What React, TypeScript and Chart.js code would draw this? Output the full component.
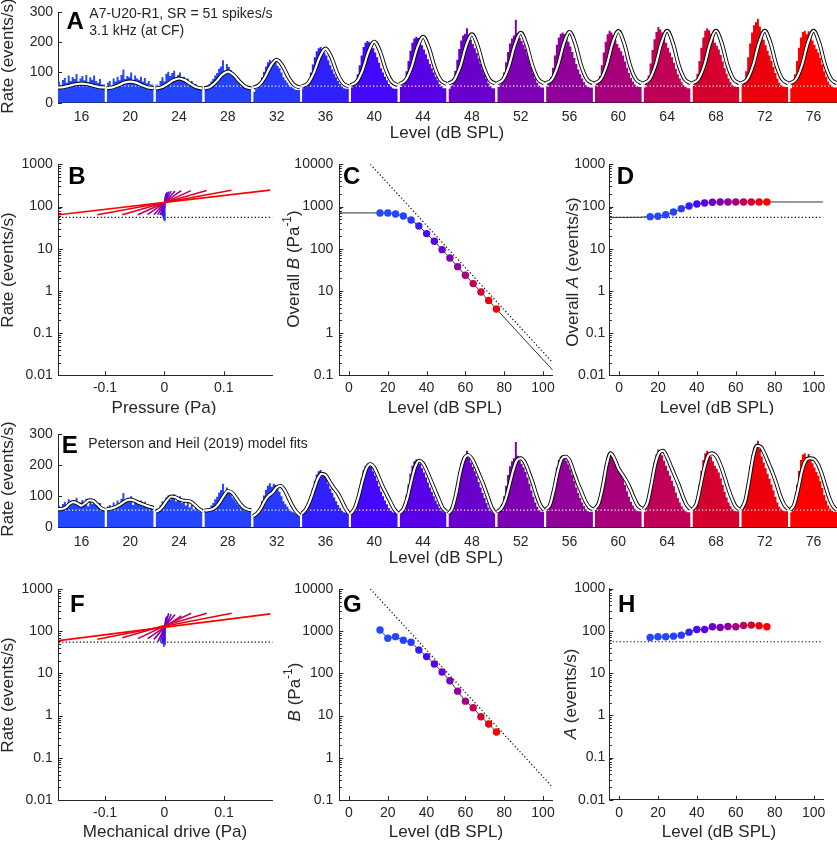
import React, { useEffect, useRef } from "react";
import { Chart, registerables } from "chart.js";

Chart.register(...registerables);

const FONT = "'Liberation Sans', Arial, Helvetica, sans-serif";
const INK = "#262626";

// ---------------- data ----------------
const levels = [16, 20, 24, 28, 32, 36, 40, 44, 48, 52, 56, 60, 64, 68, 72, 76];
const levelColors = [
  "#2348ff", "#2348ff", "#2446ff", "#2543ff", "#283aff", "#3020ff", "#4408ff", "#5800e6",
  "#6a00cc", "#7d00b3", "#910098", "#a8007a", "#c00056", "#d6002f", "#ec000c", "#ff0000",
];
// peak pressure of each tone (Pa)
const peakPressure = [
  0.000178, 0.000283, 0.000448, 0.00071, 0.00113, 0.00178, 0.00283, 0.00448,
  0.0071, 0.0113, 0.0178, 0.0283, 0.0448, 0.071, 0.113, 0.178,
];
// period histograms (events/s), 24 bins per level
const histogram = [
  [62, 70, 58, 75, 82, 66, 90, 72, 85, 78, 95, 70, 80, 88, 74, 92, 68, 84, 76, 90, 72, 66, 78, 60],
  [60, 66, 72, 58, 80, 70, 86, 74, 92, 110, 78, 88, 84, 100, 72, 90, 80, 76, 86, 70, 82, 64, 72, 60],
  [52, 60, 56, 72, 84, 70, 96, 102, 88, 98, 106, 84, 92, 100, 78, 86, 70, 80, 64, 72, 58, 62, 54, 50],
  [50, 54, 58, 62, 70, 78, 90, 98, 112, 120, 140, 106, 128, 118, 108, 96, 88, 80, 72, 66, 60, 56, 52, 50],
  [40, 36, 46, 54, 66, 84, 102, 120, 134, 142, 130, 140, 136, 122, 114, 100, 84, 74, 66, 58, 52, 48, 44, 42],
  [46, 48, 52, 60, 76, 100, 126, 150, 170, 180, 184, 178, 166, 156, 140, 124, 110, 96, 84, 72, 62, 54, 48, 46],
  [48, 50, 56, 70, 94, 124, 156, 184, 198, 204, 200, 194, 180, 166, 150, 132, 114, 100, 86, 74, 62, 54, 48, 46],
  [50, 52, 60, 78, 104, 138, 172, 198, 212, 218, 214, 204, 190, 176, 160, 144, 128, 114, 100, 86, 74, 62, 54, 48],
  [40, 46, 56, 76, 106, 142, 178, 206, 222, 228, 246, 222, 208, 194, 180, 164, 146, 128, 110, 94, 78, 64, 54, 48],
  [48, 52, 60, 76, 100, 134, 168, 196, 212, 222, 274, 230, 214, 204, 192, 178, 160, 140, 118, 98, 80, 66, 56, 50],
  [50, 54, 62, 84, 116, 156, 192, 216, 228, 232, 226, 214, 202, 186, 168, 148, 128, 110, 94, 80, 68, 58, 52, 50],
  [52, 56, 66, 88, 124, 166, 202, 226, 238, 232, 224, 208, 194, 182, 170, 156, 136, 116, 98, 82, 70, 60, 54, 52],
  [44, 50, 62, 90, 130, 174, 210, 234, 250, 242, 232, 214, 198, 182, 166, 150, 132, 112, 94, 80, 68, 58, 52, 48],
  [52, 56, 66, 96, 138, 182, 216, 238, 246, 240, 228, 212, 198, 188, 176, 158, 136, 114, 96, 80, 68, 58, 54, 52],
  [54, 58, 70, 104, 150, 196, 232, 256, 266, 278, 252, 228, 208, 190, 172, 156, 138, 118, 98, 80, 66, 58, 54, 52],
  [44, 48, 62, 94, 138, 182, 216, 234, 238, 226, 236, 220, 206, 192, 178, 166, 148, 126, 104, 86, 70, 60, 54, 50],
];
// overall-model fit curves over one period (9 samples per level)
const overallFitCurve = [
  [50, 51.7, 56.1, 60.9, 63, 60.9, 56.1, 51.7, 50],
  [48, 50.7, 58, 66.3, 70, 66.3, 58, 50.7, 48],
  [47, 50.8, 61.3, 74, 80, 74, 61.3, 50.8, 47],
  [47, 52.8, 69.6, 91.8, 103, 91.8, 69.6, 52.8, 47],
  [50, 58.3, 84.3, 122, 142, 122, 84.3, 58.3, 50],
  [54, 64.4, 98.3, 150, 179, 150, 98.3, 64.4, 54],
  [58, 69.6, 108, 168, 202, 168, 108, 69.6, 58],
  [62, 74.6, 116, 181, 218, 181, 116, 74.6, 62],
  [63, 75.9, 119, 187, 226, 187, 119, 75.9, 63],
  [64, 77.3, 122, 191, 231, 191, 122, 77.3, 64],
  [64, 77.4, 122, 194, 234, 194, 122, 77.4, 64],
  [64, 77.5, 123, 196, 237, 196, 123, 77.5, 64],
  [64, 77.6, 123, 196, 238, 196, 123, 77.6, 64],
  [64, 77.6, 123, 196, 238, 196, 123, 77.6, 64],
  [64, 77.6, 123, 196, 238, 196, 123, 77.6, 64],
  [64, 77.6, 123, 196, 238, 196, 123, 77.6, 64],
];
// Peterson & Heil (2019) model fit curves (13 samples per level)
const modelFitCurve = [
  [58, 59, 64, 76, 81, 76, 70, 78, 87, 85, 74, 62, 56],
  [58, 60, 64, 70, 78, 86, 89, 86, 80, 75, 70, 66, 62],
  [50, 56, 70, 88, 99, 97, 90, 86, 85, 82, 72, 60, 52],
  [54, 55, 58, 66, 82, 102, 116, 112, 96, 78, 64, 57, 55],
  [36, 45, 62, 86, 102, 112, 128, 133, 120, 95, 70, 50, 38],
  [44, 58, 84, 120, 155, 172, 168, 148, 128, 112, 90, 64, 44],
  [44, 62, 100, 150, 190, 203, 192, 165, 135, 110, 85, 60, 45],
  [46, 60, 95, 150, 195, 214, 205, 180, 150, 120, 90, 62, 50],
  [44, 62, 110, 175, 220, 232, 220, 195, 165, 135, 100, 65, 45],
  [50, 60, 85, 130, 180, 215, 222, 210, 180, 145, 105, 72, 55],
  [58, 72, 120, 180, 220, 227, 215, 180, 145, 115, 85, 65, 58],
  [60, 78, 130, 200, 238, 220, 190, 170, 150, 125, 95, 70, 60],
  [58, 80, 140, 205, 240, 246, 225, 195, 165, 135, 100, 72, 58],
  [58, 75, 130, 190, 230, 238, 230, 205, 170, 130, 95, 68, 58],
  [58, 85, 150, 225, 262, 258, 235, 205, 175, 140, 100, 72, 58],
  [55, 72, 120, 180, 215, 222, 220, 205, 175, 135, 95, 68, 55],
];
// rate at -peak and +peak pressure (panels B, F)
const overallLineLo = [50, 48, 47, 47, 50, 54, 58, 62, 63, 64, 64, 64, 64, 64, 64, 64];
const overallLineHi = [63, 70, 80, 103, 142, 179, 202, 218, 226, 231, 234, 237, 238, 240, 242, 244];
const modelLineLo = [57, 59.4, 51.6, 48.3, 42.6, 48.9, 52.8, 50.6, 57.6, 56.2, 64, 66.5, 66.7, 69.8, 64.5, 59.8];
const modelLineHi = [83.4, 87, 100, 115, 145, 176, 217, 226, 267, 254, 248, 231, 265, 265, 266, 257];
// fitted parameters
const overallB = [703, 703, 666, 597, 480, 346, 228, 150, 95, 60, 37.6, 23.4, 14.9, 9.4, 5.9, 3.73];
const overallA = [57.5, 58.6, 64, 74, 89, 103, 115, 121, 126, 128, 128, 128, 128, 128, 128, 128];
const modelB = [1067, 678, 742, 608, 545, 359, 250, 167, 108, 67, 38, 22, 15.4, 9.4, 6.3, 4.1];
const modelA = [69, 71.9, 72, 74.5, 78.7, 92.7, 107, 107, 124, 119.5, 126, 124, 133, 136, 131, 124];
// overall fit functions (panels C, D)
const overallBFitLevels = [-5, 10, 16, 20, 24, 28, 32, 36, 40, 44, 48, 52, 56, 60, 64, 68, 72, 76, 90, 105];
const overallBFit = [705, 705, 703, 700, 666, 597, 480, 346, 228, 150, 95, 60, 37.6, 23.4, 14.9, 9.4, 5.9, 3.73, 0.74, 0.133];
const overallAFitLevels = [-5, 10, 16, 20, 24, 28, 32, 36, 40, 44, 48, 52, 56, 60, 76, 105];
const overallAFit = [55, 55.5, 57.5, 58.6, 64, 74, 89, 103, 115, 121, 126, 128, 128, 128, 128, 128];
// 1/peak-pressure criterion line (panels C, G)
const criterionLevels = [11, 105];
const criterionB = [10000, 0.2];
const spontRate = 55;

const rateLinTicks = [0, 100, 200, 300];
const rateLogTicks = [0.01, 0.1, 1, 10, 100, 1000];
const bLogTicks = [0.1, 1, 10, 100, 1000, 10000];
const pressureTicks = [-0.1, 0, 0.1];
const levelTicks = [0, 20, 40, 60, 80, 100];

// ---------------- constants for axes ----------------
const SEG_GAP = 0.04;
const SEG_MIN = SEG_GAP / 2;
const SEG_MAX = levels.length - SEG_GAP / 2;
const P_MIN = -0.178;
const P_MAX = 0.182;
const LV_MIN = -5;
const LV_MAX = 105;

// ---------------- plugins ----------------
const inTicksPlugin = {
  id: "inTicks",
  afterDraw(chart: any, _a: any, opts: any) {
    const axes = opts && opts.axes;
    if (!axes) return;
    const ctx = chart.ctx;
    const ca = chart.chartArea;
    ctx.save();
    ctx.strokeStyle = INK;
    ctx.lineWidth = 1;
    for (const ax of axes) {
      const s = chart.scales[ax.id];
      const horiz = s.isHorizontal();
      const mark = (v: number, len: number) => {
        if (v < s.min * 0.999999 - 1e-12 || v > s.max * 1.000001 + 1e-12) return;
        const p = Math.round(s.getPixelForValue(v)) + 0.5;
        ctx.beginPath();
        if (horiz) {
          ctx.moveTo(p, ca.bottom);
          ctx.lineTo(p, ca.bottom - len);
        } else {
          ctx.moveTo(ca.left, p);
          ctx.lineTo(ca.left + len, p);
        }
        ctx.stroke();
      };
      const majors = s.ticks.map((t: any) => t.value);
      majors.forEach((v: number) => mark(v, ax.len));
      if (ax.minor) {
        majors.forEach((v: number) => {
          for (let m = 2; m < 10; m++) mark(v * m, ax.minor);
        });
      }
    }
    ctx.restore();
  },
};

const panelTextPlugin = {
  id: "panelText",
  afterDraw(chart: any, _a: any, opts: any) {
    const items = opts && opts.items;
    if (!items) return;
    const ctx = chart.ctx;
    const ox = opts.ox || 0;
    const oy = opts.oy || 0;
    for (const it of items) {
      ctx.save();
      ctx.fillStyle = it.color || INK;
      ctx.textBaseline = "middle";
      ctx.textAlign = "left";
      const size = it.size;
      const fontFor = (p: any) =>
        `${p.italic ? "italic " : ""}${it.bold ? "bold " : ""}${p.sup ? Math.round(size * 0.68) : size}px ${FONT}`;
      let total = 0;
      const widths = it.parts.map((p: any) => {
        ctx.font = fontFor(p);
        const w = ctx.measureText(p.t).width;
        total += w;
        return w;
      });
      ctx.translate(it.x - ox, it.y - oy);
      if (it.rotate) ctx.rotate(-Math.PI / 2);
      let x = it.align === "left" ? 0 : -total / 2;
      it.parts.forEach((p: any, k: number) => {
        ctx.font = fontFor(p);
        ctx.fillText(p.t, x, p.sup ? -size * 0.36 : 0);
        x += widths[k];
      });
      ctx.restore();
    }
  },
};

Chart.register(inTicksPlugin as any, panelTextPlugin as any);

// ---------------- helpers ----------------
type Geo = { cx: number; cy: number; cw: number; ch: number; L: number; T: number; R: number; B: number };

function txt(x: number, y: number, s: string, size = 14, align = "left") {
  return { x, y, size, align, parts: [{ t: s }] };
}
function letter(x: number, y: number, s: string) {
  return { x, y, size: 24, align: "left", bold: true, color: "#000", parts: [{ t: s }] };
}
function xTitle(x: number, y: number, s: string) {
  return { x, y, size: 17, align: "center", parts: [{ t: s }] };
}
function yTitle(x: number, y: number, parts: any[]) {
  return { x, y, size: 17, align: "center", rotate: true, parts };
}

const logLabel = (v: number) => (v >= 1 ? String(Math.round(v)) : String(v));

function makeScale(axis: "x" | "y", g: Geo, spec: any) {
  return {
    type: spec.type,
    min: spec.min,
    max: spec.max,
    grid: { display: false, drawTicks: false },
    border: { display: spec.border !== false, color: INK, width: 1 },
    ticks: {
      color: INK,
      font: { family: FONT, size: 14, lineHeight: 1 },
      padding: spec.pad,
      autoSkip: false,
      maxRotation: 0,
      minRotation: 0,
      callback: (v: number, i: number) => spec.label(v, i),
    },
    afterBuildTicks: (s: any) => {
      s.ticks = spec.ticks.map((v: number) => ({ value: v }));
    },
    afterFit: (s: any) => {
      if (axis === "x") s.height = g.cy + g.ch - g.B;
      else s.width = g.L - g.cx;
    },
  };
}

const segX = (pad: number) => ({
  type: "linear", min: SEG_MIN, max: SEG_MAX, pad,
  ticks: levels.map((_, i) => i + 0.5),
  label: (_v: number, i: number) => String(levels[i]),
});
const rateLinY = (pad: number) => ({
  type: "linear", min: 0, max: 300, pad, ticks: rateLinTicks, label: (v: number) => String(v),
});
const rateLogY = (pad: number) => ({
  type: "logarithmic", min: 0.01, max: 1000, pad, ticks: rateLogTicks, label: logLabel,
});
const bLogY = (pad: number) => ({
  type: "logarithmic", min: 0.1, max: 10000, pad, ticks: bLogTicks, label: logLabel,
});
const pressureX = (pad: number) => ({
  type: "linear", min: P_MIN, max: P_MAX, pad, ticks: pressureTicks, label: (v: number) => String(v),
});
const levelX = (pad: number) => ({
  type: "linear", min: LV_MIN, max: LV_MAX, pad, ticks: levelTicks, label: (v: number) => String(v),
});

function dottedLine(xs: number[], ys: number[], color = "#000", order = 6) {
  return {
    data: xs.map((x, i) => ({ x, y: ys[i] })),
    borderColor: color,
    borderWidth: 1.2,
    borderDash: [1.2, 2.3],
    pointRadius: 0,
    order,
  };
}

function histDatasets() {
  return histogram.map((bins, i) => {
    const binW = (1 - SEG_GAP) / bins.length;
    const x0 = i + SEG_GAP / 2;
    const pts = bins.map((v, b) => ({ x: x0 + b * binW, y: v }));
    pts.push({ x: x0 + bins.length * binW, y: bins[bins.length - 1] });
    return {
      data: pts,
      stepped: "after",
      fill: "origin",
      backgroundColor: levelColors[i],
      borderColor: "rgba(0,0,0,0)",
      borderWidth: 0,
      pointRadius: 0,
      order: 10,
    };
  });
}

function curveDatasets(curves: number[][]) {
  const out: any[] = [];
  curves.forEach((c, i) => {
    const n = c.length - 1;
    const mk = () => c.map((v, j) => ({ x: i + SEG_GAP / 2 + ((1 - SEG_GAP) * j) / n, y: v }));
    out.push({ data: mk(), borderColor: "#000", borderWidth: 4, cubicInterpolationMode: "monotone", pointRadius: 0, order: 2 });
    out.push({ data: mk(), borderColor: "#fff", borderWidth: 2.2, cubicInterpolationMode: "monotone", pointRadius: 0, order: 1 });
  });
  return out;
}

function ioLines(lo: number[], hi: number[]) {
  return levels.map((_, i) => ({
    data: [
      { x: -peakPressure[i], y: lo[i] },
      { x: peakPressure[i], y: hi[i] },
    ],
    borderColor: levelColors[i],
    borderWidth: 1.6,
    pointRadius: 0,
    order: 40 - i,
  }));
}

function dots(vals: number[]) {
  return {
    data: levels.map((l, i) => ({ x: l, y: vals[i] })),
    showLine: false,
    pointRadius: 3.7,
    pointBorderWidth: 0,
    pointBackgroundColor: levelColors,
    order: 1,
  };
}

function solidLine(xs: number[], ys: number[]) {
  return {
    data: xs.map((x, i) => ({ x, y: ys[i] })),
    borderColor: "#333",
    borderWidth: 1,
    pointRadius: 0,
    order: 4,
  };
}

const rateTitle = [{ t: "Rate (events/s)" }];

const PANELS: any[] = [
  {
    id: "A",
    geo: { cx: 0, cy: 0, cw: 837, ch: 145, L: 58, T: 7.3, R: 837, B: 102.7 },
    x: segX(7), y: rateLinY(5),
    inTicks: [{ id: "y", len: 4 }],
    datasets: [...histDatasets(), dottedLine([SEG_MIN, SEG_MAX], [spontRate, spontRate], "#fff", 5), ...curveDatasets(overallFitCurve)],
    texts: [
      letter(66.5, 22, "A"),
      txt(89.3, 14, "A7-U20-R1, SR = 51 spikes/s"),
      txt(89.3, 30.7, "3.1 kHz (at CF)"),
      yTitle(8.5, 56, rateTitle),
      xTitle(447, 133.5, "Level (dB SPL)"),
    ],
  },
  {
    id: "B",
    geo: { cx: 0, cy: 150, cw: 290, ch: 265, L: 58.7, T: 164.3, R: 272.5, B: 375.3 },
    x: pressureX(6), y: rateLogY(6),
    inTicks: [{ id: "y", len: 4, minor: 2.5 }, { id: "x", len: 4 }],
    datasets: [...ioLines(overallLineLo, overallLineHi), dottedLine([P_MIN, P_MAX], [spontRate, spontRate], "#000", 60)],
    texts: [letter(68.3, 177, "B"), yTitle(8.5, 270, rateTitle), xTitle(164, 408, "Pressure (Pa)")],
  },
  {
    id: "C",
    geo: { cx: 280, cy: 150, cw: 290, ch: 265, L: 339.3, T: 164.3, R: 552.7, B: 375.3 },
    x: levelX(6), y: bLogY(6),
    inTicks: [{ id: "y", len: 4, minor: 2.5 }, { id: "x", len: 4 }],
    datasets: [dots(overallB), solidLine(overallBFitLevels, overallBFit), dottedLine(criterionLevels, criterionB)],
    texts: [
      letter(343, 177.5, "C"),
      yTitle(294, 269, [{ t: "Overall " }, { t: "B", italic: true }, { t: " (Pa" }, { t: "-1", sup: true }, { t: ")" }]),
      xTitle(445, 408, "Level (dB SPL)"),
    ],
  },
  {
    id: "D",
    geo: { cx: 555, cy: 150, cw: 282, ch: 265, L: 609.3, T: 164.3, R: 823.3, B: 375.3 },
    x: levelX(6), y: rateLogY(4),
    inTicks: [{ id: "y", len: 4, minor: 2.5 }, { id: "x", len: 4 }],
    datasets: [dots(overallA), solidLine(overallAFitLevels, overallAFit), dottedLine([LV_MIN, LV_MAX], [spontRate, spontRate])],
    texts: [
      letter(616.7, 177.5, "D"),
      yTitle(573, 272, [{ t: "Overall " }, { t: "A", italic: true }, { t: " (events/s)" }]),
      xTitle(717, 408, "Level (dB SPL)"),
    ],
  },
  {
    id: "E",
    geo: { cx: 0, cy: 410, cw: 837, ch: 160, L: 58, T: 434, R: 837, B: 527.3 },
    x: segX(7.4), y: rateLinY(5.3),
    inTicks: [{ id: "y", len: 4 }],
    datasets: [...histDatasets(), dottedLine([SEG_MIN, SEG_MAX], [spontRate, spontRate], "#fff", 5), ...curveDatasets(modelFitCurve)],
    texts: [
      letter(61.7, 446, "E"),
      txt(88.3, 444.3, "Peterson and Heil (2019) model fits"),
      yTitle(8.5, 479, rateTitle),
      xTitle(446, 558.5, "Level (dB SPL)"),
    ],
  },
  {
    id: "F",
    geo: { cx: 0, cy: 575, cw: 290, ch: 267, L: 58.7, T: 589, R: 272.7, B: 800 },
    x: pressureX(6.3), y: rateLogY(6),
    inTicks: [{ id: "y", len: 4, minor: 2.5 }, { id: "x", len: 4 }],
    datasets: [...ioLines(modelLineLo, modelLineHi), dottedLine([P_MIN, P_MAX], [spontRate, spontRate], "#000", 60)],
    texts: [letter(70, 605, "F"), yTitle(8.5, 695, rateTitle), xTitle(165, 832, "Mechanical drive (Pa)")],
  },
  {
    id: "G",
    geo: { cx: 280, cy: 575, cw: 290, ch: 267, L: 339.3, T: 589, R: 552.7, B: 800 },
    x: levelX(6.3), y: bLogY(6),
    inTicks: [{ id: "y", len: 4, minor: 2.5 }, { id: "x", len: 4 }],
    datasets: [dots(modelB), solidLine(levels, modelB), dottedLine(criterionLevels, criterionB)],
    texts: [
      letter(343, 605, "G"),
      yTitle(295, 692, [{ t: "B", italic: true }, { t: " (Pa" }, { t: "-1", sup: true }, { t: ")" }]),
      xTitle(446, 832, "Level (dB SPL)"),
    ],
  },
  {
    id: "H",
    geo: { cx: 555, cy: 575, cw: 282, ch: 267, L: 609.3, T: 588.5, R: 823.3, B: 799.8 },
    x: levelX(6.3), y: rateLogY(4),
    inTicks: [{ id: "y", len: 4, minor: 2.5 }, { id: "x", len: 4 }],
    datasets: [dots(modelA), solidLine(levels, modelA), dottedLine([LV_MIN, LV_MAX], [spontRate, spontRate])],
    texts: [
      letter(618, 605, "H"),
      yTitle(571.7, 694, [{ t: "A", italic: true }, { t: " (events/s)" }]),
      xTitle(719, 832, "Level (dB SPL)"),
    ],
  },
];

function buildConfig(p: any): any {
  const g: Geo = p.geo;
  return {
    type: "line",
    data: { datasets: p.datasets },
    options: {
      responsive: false,
      animation: false,
      events: [],
      devicePixelRatio: 1,
      layout: { padding: { left: 0, top: g.T - g.cy, right: g.cx + g.cw - g.R, bottom: 0 } },
      plugins: {
        legend: { display: false },
        tooltip: { enabled: false },
        title: { display: false },
        panelText: { items: p.texts, ox: g.cx, oy: g.cy },
        inTicks: { axes: p.inTicks },
      },
      elements: { point: { radius: 0 }, line: { tension: 0 } },
      scales: { x: makeScale("x", g, p.x), y: makeScale("y", g, p.y) },
    },
  };
}

export default function App() {
  const refs = useRef<(HTMLCanvasElement | null)[]>([]);
  useEffect(() => {
    const charts = PANELS.map((p, i) => new Chart(refs.current[i] as HTMLCanvasElement, buildConfig(p)));
    return () => charts.forEach((c) => c.destroy());
  }, []);
  return (
    <div style={{ position: "absolute", left: 0, top: 0, width: 837, height: 842, background: "#fff", overflow: "hidden" }}>
      {PANELS.map((p, i) => (
        <canvas
          key={p.id}
          ref={(el) => {
            refs.current[i] = el;
          }}
          width={p.geo.cw}
          height={p.geo.ch}
          style={{ position: "absolute", left: p.geo.cx, top: p.geo.cy, width: p.geo.cw, height: p.geo.ch }}
        />
      ))}
    </div>
  );
}
